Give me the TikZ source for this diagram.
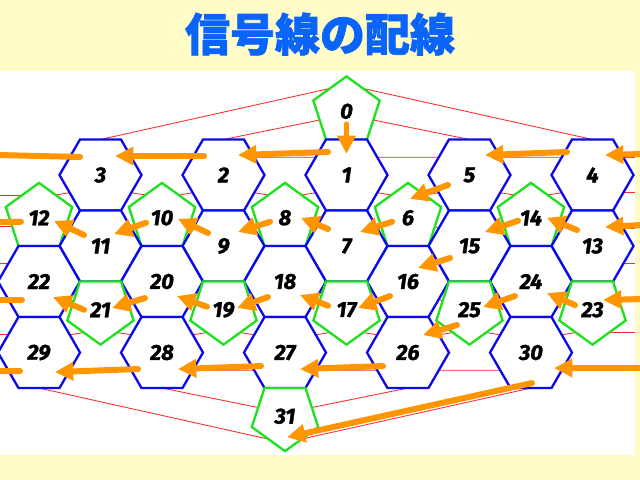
\documentclass[tikz,border=0pt]{standalone}
\usepackage{fontspec}
\usepackage{tikz}
\usetikzlibrary{arrows.meta,calc,shapes.geometric,backgrounds}
\newfontfamily\numfont{Fira Sans}[BoldItalicFeatures={FakeBold=1.6}]
\newfontfamily\jpfont{Noto Sans CJK JP}[BoldFeatures={FakeBold=1.5}]
\definecolor{paper}{RGB}{255,252,200}
\definecolor{titleblue}{RGB}{10,100,250}
\definecolor{hexblue}{RGB}{10,10,235}
\definecolor{pentgreen}{RGB}{30,225,30}
\definecolor{gluered}{RGB}{250,40,40}
\definecolor{wireorange}{RGB}{255,150,0}

\begin{document}
\begin{tikzpicture}[x=0.5mm, y=-0.5mm,
    cell/.style={inner sep=0pt, outer sep=0pt, fill=white, line width=3.3pt,
                 font=\numfont\bfseries\itshape\fontsize{31}{31}\selectfont},
    hexcell/.style={cell, regular polygon, regular polygon sides=6,
                    minimum size=41mm, draw=hexblue},
    pentup/.style={cell, regular polygon, regular polygon sides=5,
                   minimum size=34.88mm, draw=pentgreen},
    pentdown/.style={pentup, shape border rotate=180},
    glue/.style={draw=gluered, line width=1.2pt},
    wire/.style={draw=wireorange, line width=8.5pt, line cap=round,
                 -{Triangle[length=26pt, width=25pt]}},
    wireout/.style={draw=wireorange, line width=8.5pt, line cap=round}
  ]
  \useasboundingbox (0,0) rectangle (640,480);
  \coordinate (west) at (0,0);
  \coordinate (east) at (635,0);
  % Title
  \node[font=\jpfont\bfseries\fontsize{64}{64}\selectfont, text=titleblue]
    (title) at (320,34) {信号線の配線};
  % Pentagons pointing up
  \node[pentup] (c0)  at (346.5,111.28) {0};
  \node[pentup] (c12) at (39,217.80)  {12};
  \node[pentup] (c10) at (162,217.80) {10};
  \node[pentup] (c8)  at (285,217.80) {8};
  \node[pentup] (c6)  at (408,217.80) {6};
  \node[pentup] (c14) at (531,217.80) {14};
  % Hexagons, top row
  \node[hexcell] (c3) at (100.5,175) {3};
  \node[hexcell] (c2) at (223.5,175) {2};
  \node[hexcell] (c1) at (346.5,175) {1};
  \node[hexcell] (c5) at (469.5,175) {5};
  \node[hexcell] (c4) at (592.5,175) {4};
  % Hexagons, second row
  \node[hexcell] (c11) at (100.5,246.01) {11};
  \node[hexcell] (c9)  at (223.5,246.01) {9};
  \node[hexcell] (c7)  at (346.5,246.01) {7};
  \node[hexcell] (c15) at (469.5,246.01) {15};
  \node[hexcell] (c13) at (592.5,246.01) {13};
  % Hexagons, third row
  \node[hexcell] (c22) at (39,281.52)  {22};
  \node[hexcell] (c20) at (162,281.52) {20};
  \node[hexcell] (c18) at (285,281.52) {18};
  \node[hexcell] (c16) at (408,281.52) {16};
  \node[hexcell] (c24) at (531,281.52) {24};
  % Hexagons, bottom row
  \node[hexcell] (c29) at (39,352.54)  {29};
  \node[hexcell] (c28) at (162,352.54) {28};
  \node[hexcell] (c27) at (285,352.54) {27};
  \node[hexcell] (c26) at (408,352.54) {26};
  \node[hexcell] (c30) at (531,352.54) {30};
  % Pentagons pointing down
  \node[pentdown] (c21) at (100.5,309.74) {21};
  \node[pentdown] (c19) at (223.5,309.74) {19};
  \node[pentdown] (c17) at (346.5,309.74) {17};
  \node[pentdown] (c25) at (469.5,309.74) {25};
  \node[pentdown] (c23) at (592.5,309.74) {23};
  \node[pentdown] (c31) at (285,416.26)   {31};
  % Glued edges of the net
  \begin{scope}[on background layer]
    \fill[paper] (0,0) rectangle (640,480);
    \fill[white] (0,71) rectangle (635,455);
    \clip (0,71) rectangle (635,455);
    % top cap
    \draw[glue] (c0.126) -- (c3.90);
    \draw[glue] (c0.198) -- (c2.90);
    \draw[glue] (c0.342) -- (c5.90);
    \draw[glue] (c0.54) -- (c4.90);
    % top row
    \draw[glue] (c3.30) -- (c2.150);
    \draw[glue] (c2.30) -- (c1.150);
    \draw[glue] (c1.30) -- (c5.150);
    \draw[glue] (c5.30) -- (c4.150);
    \draw[glue] (c4.30) -- (c4.30 -| east);
    \draw[glue] (c3.150) -- (c3.150 -| west);
    % upper pentagons
    \draw[glue] (c12.54) -- (c3.210);
    \draw[glue] (c12.126) -- (c12.126 -| west);
    \draw[glue] (c4.330) -- (c4.330 -| east);
    \draw[glue] (c10.126) -- (c3.330);
    \draw[glue] (c10.54) -- (c2.210);
    \draw[glue] (c8.126) -- (c2.330);
    \draw[glue] (c8.54) -- (c1.210);
    \draw[glue] (c6.126) -- (c1.330);
    \draw[glue] (c6.54) -- (c5.210);
    \draw[glue] (c14.126) -- (c5.330);
    \draw[glue] (c14.54) -- (c4.210);
    \draw[glue] (c12.342) -- (c11.150);
    \draw[glue] (c12.198) -- (c12.198 -| west);
    \draw[glue] (c13.30) -- (c13.30 -| east);
    \draw[glue] (c10.198) -- (c11.30);
    \draw[glue] (c10.342) -- (c9.150);
    \draw[glue] (c8.198) -- (c9.30);
    \draw[glue] (c8.342) -- (c7.150);
    \draw[glue] (c6.198) -- (c7.30);
    \draw[glue] (c6.342) -- (c15.150);
    \draw[glue] (c14.198) -- (c15.30);
    \draw[glue] (c14.342) -- (c13.150);
    \draw[glue] (c13.330) -- (c13.330 -| east);
    \draw[glue] (c22.150) -- (c22.150 -| west);
    % lower pentagons
    \draw[glue] (c21.162) -- (c22.330);
    \draw[glue] (c21.18) -- (c20.210);
    \draw[glue] (c21.234) -- (c29.30);
    \draw[glue] (c21.306) -- (c28.150);
    \draw[glue] (c19.162) -- (c20.330);
    \draw[glue] (c19.18) -- (c18.210);
    \draw[glue] (c19.234) -- (c28.30);
    \draw[glue] (c19.306) -- (c27.150);
    \draw[glue] (c17.162) -- (c18.330);
    \draw[glue] (c17.18) -- (c16.210);
    \draw[glue] (c17.234) -- (c27.30);
    \draw[glue] (c17.306) -- (c26.150);
    \draw[glue] (c25.162) -- (c16.330);
    \draw[glue] (c25.18) -- (c24.210);
    \draw[glue] (c25.234) -- (c26.30);
    \draw[glue] (c25.306) -- (c30.150);
    \draw[glue] (c23.162) -- (c24.330);
    \draw[glue] (c23.18) -- (c23.18 -| east);
    \draw[glue] (c22.210) -- (c22.210 -| west);
    \draw[glue] (c23.234) -- (c30.30);
    \draw[glue] (c23.306) -- (c23.306 -| east);
    \draw[glue] (c29.150) -- (c29.150 -| west);
    % bottom row
    \draw[glue] (c29.330) -- (c28.210);
    \draw[glue] (c28.330) -- (c27.210);
    \draw[glue] (c27.330) -- (c26.210);
    \draw[glue] (c26.330) -- (c30.210);
    \draw[glue] (c30.330) -- (c30.330 -| east);
    \draw[glue] (c29.210) -- (c29.210 -| west);
    % bottom cap
    \draw[glue] (c31.162) -- (c28.270);
    \draw[glue] (c31.234) -- (c29.270);
    \draw[glue] (c31.306) -- (c30.270);
    \draw[glue] (c31.18) -- (c26.270);
  \end{scope}
  % Free ends at the sides
  \coordinate (out3)  at (-2,155);
  \coordinate (in4)   at (642,154);
  \coordinate (out12) at (-2,222);
  \coordinate (in13)  at (642,225);
  \coordinate (out22) at (-2,300);
  \coordinate (in23)  at (642,299);
  \coordinate (out29) at (-2,371);
  \coordinate (in30)  at (642,368);
  % Signal wiring
  \draw[wire] ($(c0)+(0,13)$) -- ($(c1)+(0,-21)$);
  \draw[wire] ($(c1)+(-18.5,-23)$) -- ($(c2)+(14.5,-20)$);
  \draw[wire] ($(c2)+(-19.5,-19)$) -- ($(c3)+(14.5,-19)$);
  \draw[wireout] ($(c3)+(-20.5,-18)$) -- (out3);
  \draw[wire] (in4) -- ($(c4)+(12.5,-20)$);
  \draw[wire] ($(c4)+(-25.5,-23)$) -- ($(c5)+(15.5,-20)$);
  \draw[wire] ($(c5)+(-21.5,10)$) -- ($(c6)+(2,-19)$);
  \draw[wire] ($(c6)+(-16,4)$) -- ($(c7)+(13.5,-14)$);
  \draw[wire] ($(c7)+(-18.5,-17)$) -- ($(c8)+(16,0)$);
  \draw[wire] ($(c8)+(-15,4)$) -- ($(c9)+(14.5,-14)$);
  \draw[wire] ($(c9)+(-15.5,-13)$) -- ($(c10)+(16,1)$);
  \draw[wire] ($(c10)+(-16,5)$) -- ($(c11)+(13.5,-12)$);
  \draw[wire] ($(c11)+(-16.5,-11)$) -- ($(c12)+(15,3)$);
  \draw[wireout] ($(c12)+(-18,4)$) -- (out12);
  \draw[wire] (in13) -- ($(c13)+(12.5,-19)$);
  \draw[wire] ($(c13)+(-15.5,-16)$) -- ($(c14)+(16,0)$);
  \draw[wire] ($(c14)+(-13,3)$) -- ($(c15)+(15.5,-14)$);
  \draw[wire] ($(c15)+(-19.5,12)$) -- ($(c16)+(10,-13.5)$);
  \draw[wire] ($(c16)+(-18,14.5)$) -- ($(c17)+(11.5,-1.7)$);
  \draw[wire] ($(c17)+(-18.5,-4)$) -- ($(c18)+(15,13.5)$);
  \draw[wire] ($(c18)+(-17,15.5)$) -- ($(c19)+(13.5,-1.7)$);
  \draw[wire] ($(c19)+(-16.5,-3)$) -- ($(c20)+(15,14.5)$);
  \draw[wire] ($(c20)+(-17,16.5)$) -- ($(c21)+(11.5,-1.7)$);
  \draw[wire] ($(c21)+(-16.5,0)$) -- ($(c22)+(14,15.5)$);
  \draw[wireout] ($(c22)+(-17,18.5)$) -- (out22);
  \draw[wire] (in23) -- ($(c23)+(10.5,-9.7)$);
  \draw[wire] ($(c23)+(-17.5,-4.7)$) -- ($(c24)+(16,11.5)$);
  \draw[wire] ($(c24)+(-16,14.5)$) -- ($(c25)+(13.5,-2.7)$);
  \draw[wire] ($(c25)+(-12.5,15.3)$) -- ($(c26)+(15,-17.5)$);
  \draw[wire] ($(c26)+(-25,13.5)$) -- ($(c27)+(15,16.5)$);
  \draw[wire] ($(c27)+(-24,13.5)$) -- ($(c28)+(16,16.5)$);
  \draw[wire] ($(c28)+(-24,16.5)$) -- ($(c29)+(16,19.5)$);
  \draw[wireout] ($(c29)+(-19,18.5)$) -- (out29);
  \draw[wire] (in30) -- ($(c30)+(23,15.5)$);
  \draw[wire] ($(c30)+(1,30.5)$) -- ($(c31)+(2,21)$);
\end{tikzpicture}
\end{document}
